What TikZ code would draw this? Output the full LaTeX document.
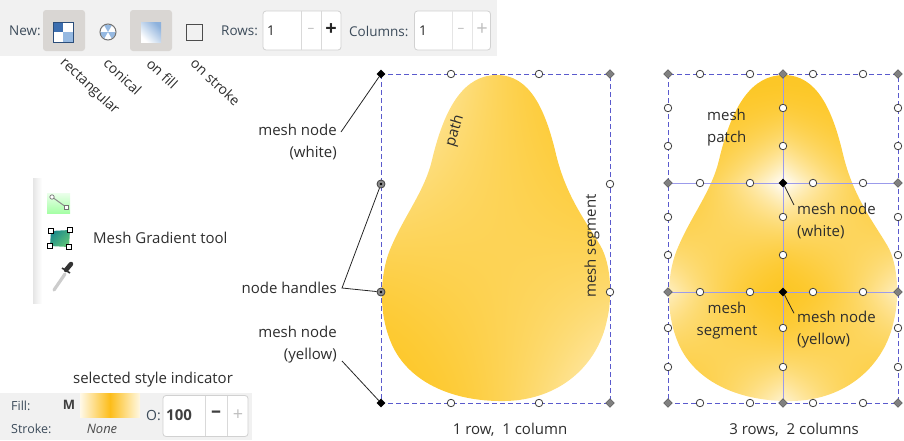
\documentclass[tikz,border=0pt]{standalone}
\usepackage{fontspec}
\setmainfont{Open Sans}
\usetikzlibrary{shapes.geometric}

\definecolor{meshyellow}{RGB}{252,200,30}
\definecolor{guide}{RGB}{90,90,205}
\definecolor{gridline}{RGB}{155,155,235}
\definecolor{barbg}{RGB}{241,241,241}
\definecolor{pressed}{RGB}{217,214,211}
\definecolor{labeltext}{RGB}{45,45,45}
\definecolor{paneltext}{RGB}{60,75,90}
\definecolor{iconblue}{RGB}{60,110,175}
\definecolor{iconpale}{RGB}{150,185,225}
\definecolor{iconteal}{RGB}{30,140,140}
\definecolor{icongreen}{RGB}{95,195,120}

% bilinear patch: {name}{TL}{TR}{BL}{BR}, each value = amount of yellow
\newcommand\meshpatch[5]{%
  \pgfdeclarefunctionalshading{#1}{\pgfpoint{0bp}{0bp}}{\pgfpoint{100bp}{100bp}}{}{%
    exch 25 sub 50 div
    dup #5 #4 sub mul #4 add
    exch #3 #2 sub mul #2 add
    2 index 25 sub 50 div
    3 1 roll 1 index sub 2 index mul add
    exch pop exch pop
    dup 2 exch sub mul
    dup dup 0.01 mul 1 exch sub
    3 1 roll 0.22 mul 1 exch sub
    exch 0.85 mul 1 exch sub
  }}
\meshpatch{meshone}{0}{1}{1}{0.12}
\meshpatch{meshaa}{1}{1}{0.85}{0}
\meshpatch{meshab}{1}{1}{0}{0.85}
\meshpatch{meshba}{0.85}{0}{0.15}{1}
\meshpatch{meshbb}{0}{0.85}{1}{0.15}
\meshpatch{meshca}{0.15}{1}{0.85}{0.1}
\meshpatch{meshcb}{1}{0.15}{0.1}{0.85}

\newcommand\pear{(497,75) .. controls (530,75) and (545,110) .. (555,150)
  .. controls (565,195) and (585,220) .. (600,245)
  .. controls (612,265) and (612,300) .. (607,320)
  .. controls (598,365) and (560,400) .. (505,401)
  .. controls (450,402) and (405,380) .. (390,340)
  .. controls (378,310) and (380,270) .. (392,245)
  .. controls (405,215) and (425,190) .. (432,160)
  .. controls (445,105) and (465,75) .. (497,75) -- cycle}

\tikzset{
  handle/.style={circle, draw=black!75, fill=white, line width=0.8pt, inner sep=0pt, minimum size=7.5pt},
  selhandle/.style={circle, draw=black!75, fill=black!45, line width=0.8pt, inner sep=0pt, minimum size=8pt,
    path picture={\fill[black] (path picture bounding box.center) circle (1.4pt);}},
  cornernode/.style={diamond, draw=black!70, fill=black!50, inner sep=0pt, minimum size=9pt},
  activenode/.style={diamond, fill=black, inner sep=0pt, minimum size=9pt},
  meshframe/.style={guide, dash pattern=on 5pt off 3pt, line width=1pt},
  leader/.style={black!85, line width=0.8pt},
  lbl/.style={font=\fontsize{15}{22}\selectfont, text=labeltext, inner sep=1pt},
  barlbl/.style={font=\fontsize{13.5}{16}\selectfont, text=paneltext, inner sep=0pt},
  tiltlbl/.style={font=\fontsize{14}{16}\selectfont, text=labeltext, rotate=-43, anchor=west, inner sep=0pt},
  btn/.style={rectangle, rounded corners=3pt, fill=pressed, minimum width=42pt, minimum height=41pt},
  spinbox/.style={rectangle, rounded corners=3pt, draw=black!18, fill=white, line width=0.8pt, minimum height=39pt},
}

\begin{document}
\begin{tikzpicture}[x=1pt, y=-1pt]
\useasboundingbox (0,0) rectangle (904,440);

% toolbar
\fill[barbg] (0,0) rectangle (497,56);
\node[barlbl, anchor=west] (newlbl) at (9,31) {New:};
\node[btn] (rectbtn) at (64,30.5) {};
\node[btn] (fillbtn) at (151,30.5) {};
\fill[white] (53,22) rectangle (73,42);
\fill[iconblue] (53,22) rectangle (63,32);
\fill[iconpale] (63,32) rectangle (73,42);
\draw[iconblue!70!black, line width=0.9pt] (53,22) rectangle (73,42);
\fill[white] (108,32) circle (8);
\foreach \a in {0,120,240}
  \fill[iconpale] (108,32) -- ++(\a:7.5) arc (\a:\a+60:7.5) -- cycle;
\draw[black!55, line width=1pt] (108,32) circle (8);
\shade[shading=axis, top color=iconpale!90!iconblue, bottom color=white, shading angle=-45] (141,22) rectangle (161,42);
\draw[black!70, line width=1.2pt] (186.5,24.5) rectangle (202.5,40.5);
\node[barlbl, anchor=west] (rowslbl) at (221,31) {Rows:};
\node[spinbox, minimum width=78pt] (rowsbox) at (302,30.5) {};
\draw[black!15] (301,11) -- (301,50) (321,11) -- (321,50);
\node[barlbl, anchor=west, text=black!85] (rowsval) at (267,31) {1};
\node[barlbl, text=black!25] (rowsminus) at (311,30) {–};
\node[font=\fontsize{20}{20}\selectfont\bfseries, text=black!85, inner sep=0pt] (rowsplus) at (331,30) {+};
\node[barlbl, anchor=west] (colslbl) at (349,31) {Columns:};
\node[spinbox, minimum width=76pt] (colsbox) at (452.5,30.5) {};
\draw[black!10] (452,11) -- (452,50) (472,11) -- (472,50);
\node[barlbl, anchor=west, text=black!85] (colsval) at (419,31) {1};
\node[barlbl, text=black!25] (colsminus) at (461,30) {–};
\node[font=\fontsize{20}{20}\selectfont, text=black!25, inner sep=0pt] (colsplus) at (482,30) {+};
\node[tiltlbl] (rectlbl) at (62,61) {rectangular};
\node[tiltlbl] (conelbl) at (106,61) {conical};
\node[tiltlbl] (onfilllbl) at (149,61) {on fill};
\node[tiltlbl] (onstrokelbl) at (193,61) {on stroke};

% tool strip
\shade[left color=black!10, right color=white] (33,178) rectangle (42,303);
\shade[top color=green!8!white, bottom color=green!35!white] (47,193) rectangle (70,213);
\draw[black!45, line width=1pt] (52,197) -- (66,207);
\draw[black!55, fill=white, line width=0.7pt] (52,197) circle (2.2) (64.5,205.5) rectangle (68.5,209.5);
\shade[left color=iconteal, right color=icongreen, shading angle=45] (51,231) -- (70,230) -- (69,247) -- (50,246) -- cycle;
\foreach \p in {(51,231),(70,230),(69,247),(50,246)}
  \draw[black, fill=white, line width=0.8pt] \p ++(-2.2,-2.2) rectangle ++(4.4,4.4);
\draw[black!20, line width=3.2pt, line cap=round] (54,290) -- (65,274);
\draw[black!80, line width=4.5pt, line cap=round] (66,270) -- (71,264);
\draw[black!80, line width=1.6pt] (62,268) -- (70,273);
\node[lbl, anchor=west] (toollbl) at (92,238) {Mesh Gradient tool};

% style indicator
\node[lbl] (stylelbl) at (153,380) {selected style indicator};
\fill[barbg] (0,393) rectangle (252,440);
\node[barlbl, anchor=west, font=\fontsize{12.5}{14}\selectfont] (filllbl) at (11,406) {Fill:};
\node[barlbl, anchor=west, font=\fontsize{12.5}{14}\selectfont] (strokelbl) at (11,429) {Stroke:};
\node[barlbl, font=\fontsize{13}{14}\selectfont\bfseries, text=black!75] (meshm) at (69,405) {M};
\shade[left color=meshyellow!10, right color=meshyellow!12, middle color=meshyellow!85!orange] (80,393) rectangle (140,417);
\node[barlbl, font=\fontsize{13}{14}\selectfont\itshape, text=black!70] (nonelbl) at (102,429) {None};
\node[barlbl, anchor=west, font=\fontsize{14}{14}\selectfont] (opaclbl) at (146,416) {O:};
\node[spinbox, minimum width=85pt, minimum height=41pt] (opacbox) at (205.5,416) {};
\draw[black!15] (205,396) -- (205,436) (227,396) -- (227,436);
\node[barlbl, anchor=west, font=\fontsize{15}{16}\selectfont\bfseries, text=black!75] (opacval) at (166,415) {100};
\node[font=\fontsize{20}{20}\selectfont\bfseries, text=black!75, inner sep=0pt] (opacminus) at (216,414) {–};
\node[font=\fontsize{18}{18}\selectfont, text=black!25, inner sep=0pt] (opacplus) at (238,415) {+};

% 1 row, 1 column
\begin{scope}
  \clip \pear;
  \shade[shading=meshone] (381,74) rectangle (610,403);
\end{scope}
\draw[meshframe] (381,74) rectangle (610,403);
\node[activenode] (mtl) at (381,74) {};
\node[cornernode] (mtr) at (610,74) {};
\node[activenode] (mbl) at (381,403) {};
\node[cornernode] (mbr) at (610,403) {};
\foreach \x/\n in {451/1,539/2} {
  \node[handle] (mt\n) at (\x,74) {};
  \node[handle] (mb\n) at (\x,403) {};
}
\foreach \y/\n in {184/1,292/2} {
  \node[selhandle] (ml\n) at (381,\y) {};
  \node[handle] (mr\n) at (610,\y) {};
}
\node[lbl, rotate=73] (pathlbl) at (455,131) {path};
\node[lbl, rotate=90] (seglbl) at (592,246) {mesh segment};
\node[lbl] (onecap) at (510,430) {1 row,\ \ 1 column};

\node[lbl, align=right, anchor=east] (whitelbl) at (338,142) {mesh node\\(white)};
\node[lbl, anchor=east] (handlelbl) at (338,288) {node handles};
\node[lbl, align=right, anchor=east] (yellowlbl) at (338,345) {mesh node\\(yellow)};
\draw[leader] ([shift={(3pt,10pt)}]whitelbl.east) -- (mtl);
\draw[leader] (ml1) -- ([xshift=4pt]handlelbl.east) -- (ml2);
\draw[leader] ([shift={(4pt,-16pt)}]yellowlbl.east) -- (mbl);

% 3 rows, 2 columns
\foreach \r/\y in {0/74,1/183,2/292,3/403}
  \foreach \c/\x in {0/668,1/783,2/898}
    \coordinate (g\r\c) at (\x,\y);
\begin{scope}
  \clip[xshift=287pt] \pear;
  \shade[shading=meshaa] (g00) rectangle (g11);
  \shade[shading=meshab] (g01) rectangle (g12);
  \shade[shading=meshba] (g10) rectangle (g21);
  \shade[shading=meshbb] (g11) rectangle (g22);
  \shade[shading=meshca] (g20) rectangle (g31);
  \shade[shading=meshcb] (g21) rectangle (g32);
\end{scope}
\draw[gridline, line width=0.8pt] (g01) -- (g31) (g10) -- (g12) (g20) -- (g22);
\draw[meshframe] (g00) rectangle (g32);
\foreach \y in {74,183,292,403}
  \foreach \x in {700,750,813,863}
    \node[handle] (rh-\x-\y) at (\x,\y) {};
\foreach \x in {668,783,898}
  \foreach \y in {108,146,217,255,328,367}
    \node[handle] (rv-\x-\y) at (\x,\y) {};
\foreach \p in {00,01,02,10,12,20,22,30,31,32}
  \node[cornernode] (n\p) at (g\p) {};
\node[activenode] (n11) at (g11) {};
\node[activenode] (n21) at (g21) {};

\node[lbl, align=left, anchor=west] (patchlbl) at (706,128) {mesh\\patch};
\node[lbl, align=left, anchor=west] (rwhitelbl) at (796,221) {mesh node\\(white)};
\node[lbl, align=center] (rseglbl) at (727,321) {mesh\\segment};
\node[lbl, align=left, anchor=west] (ryellowlbl) at (796,330) {mesh node\\(yellow)};
\draw[leader] (n11) -- ([shift={(-2pt,-3pt)}]rwhitelbl.north west);
\draw[leader] (n21) -- ([shift={(-2pt,-3pt)}]ryellowlbl.north west);
\node[lbl] (threecap) at (794,430) {3 rows,\ \ 2 columns};
\end{tikzpicture}
\end{document}
